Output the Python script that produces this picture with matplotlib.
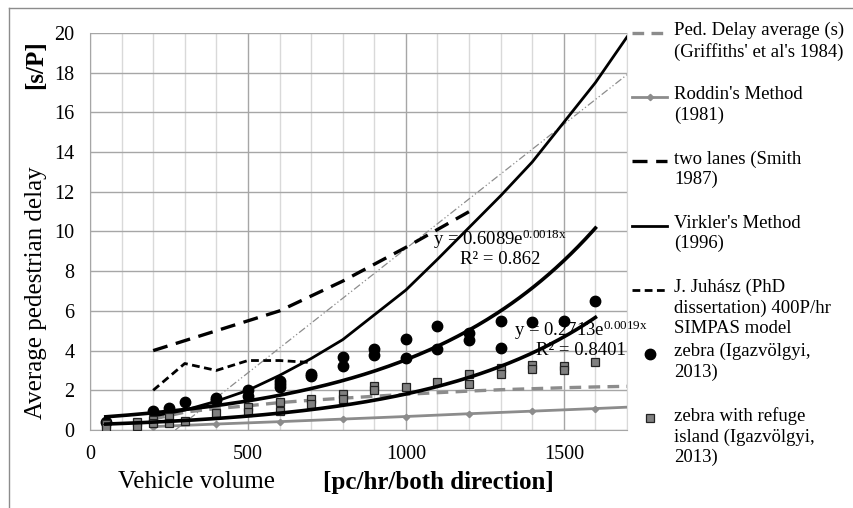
import numpy as np
import matplotlib
matplotlib.use("Agg")
import matplotlib.pyplot as plt
from matplotlib.lines import Line2D
from matplotlib.ticker import MultipleLocator

plt.rcParams['font.family'] = ['Liberation Serif', 'DejaVu Serif']
plt.rcParams['mathtext.fontset'] = 'custom'
plt.rcParams['mathtext.rm'] = 'Liberation Serif'

# ---------------- data ----------------
ped_x = [200, 300, 400, 500, 600, 700, 800, 900, 1000, 1100, 1200, 1300, 1400, 1500, 1600, 1700]
ped_y = [0.55, 0.9, 1.08, 1.22, 1.38, 1.5, 1.6, 1.7, 1.8, 1.88, 1.96, 2.03, 2.08, 2.13, 2.17, 2.2]

roddin_x = [200, 400, 600, 800, 1000, 1200, 1400, 1600, 1700]
roddin_y = [0.17, 0.3, 0.42, 0.55, 0.68, 0.82, 0.95, 1.08, 1.15]

smith_x = [200, 400, 600, 800, 1000, 1200]
smith_y = [4.0, 5.0, 6.0, 7.5, 9.2, 11.0]

virkler_x = [200, 300, 400, 500, 600, 700, 800, 900, 1000, 1100, 1200, 1300, 1400, 1500, 1600, 1700]
virkler_y = [0.7, 1.0, 1.45, 2.0, 2.75, 3.6, 4.55, 5.8, 7.05, 8.6, 10.2, 11.8, 13.5, 15.5, 17.5, 19.8]

juhasz_x = [200, 300, 400, 500, 600, 700]
juhasz_y = [2.0, 3.35, 3.0, 3.5, 3.5, 3.4]

zebra_x = [50, 200, 250, 300, 400, 400, 500, 500, 600, 600, 600, 700, 700, 800, 800,
           900, 900, 1000, 1000, 1100, 1100, 1200, 1200, 1300, 1300, 1400, 1500, 1600]
zebra_y = [0.4, 0.95, 1.1, 1.42, 1.6, 1.5, 2.0, 1.7, 2.47, 2.3, 2.15, 2.82, 2.7, 3.66, 3.22,
           4.06, 3.78, 4.57, 3.61, 5.25, 4.06, 4.9, 4.53, 5.5, 4.15, 5.42, 5.47, 6.51]

refuge_x = [50, 50, 150, 150, 200, 200, 250, 250, 300, 400, 500, 500, 600, 600, 700, 700,
            800, 800, 900, 900, 1000, 1100, 1200, 1200, 1300, 1300, 1400, 1400, 1500, 1500, 1600]
refuge_y = [0.3, 0.1, 0.42, 0.2, 0.52, 0.33, 0.64, 0.34, 0.47, 0.87, 1.14, 0.92, 1.43, 0.96, 1.55, 1.31,
            1.8, 1.56, 2.22, 2.0, 2.15, 2.4, 2.8, 2.3, 3.1, 2.8, 3.27, 3.05, 3.22, 3.0, 3.44]

# exponential trendlines y = a * exp(b x) (coefficients as shown, b unrounded)
zebra_trend_a, zebra_trend_b = 0.6089, 0.00176
refuge_trend_a, refuge_trend_b = 0.2713, 0.0019

dashdot_x = [270, 1700]
dashdot_y = [0.0, 17.9]

labels = [
    "Ped. Delay average (s)\n(Griffiths' et al's 1984)",
    "Roddin's Method\n(1981)",
    "two lanes (Smith\n1987)",
    "Virkler's Method\n(1996)",
    "J. Juhász (PhD\ndissertation) 400P/hr\nSIMPAS model",
    "zebra (Igazvölgyi,\n2013)",
    "zebra with refuge\nisland (Igazvölgyi,\n2013)",
]
eq1 = 'y = 0.6089' + r'$\mathregular{e^{0.0018x}}$' + '\nR² = 0.862'
eq2 = 'y = 0.2713' + r'$\mathregular{e^{0.0019x}}$' + '\nR² = 0.8401'

# ---------------- styles ----------------
GRAY = '#8c8c8c'
styles = [
    dict(color=GRAY, lw=2.4, ls=(0, (3.5, 2.2))),
    dict(color=GRAY, lw=2.0, marker='D', ms=3.2, mfc=GRAY, mec=GRAY),
    dict(color='black', lw=2.4, ls=(0, (4.5, 2.6))),
    dict(color='black', lw=2.0),
    dict(color='black', lw=2.0, ls=(0, (2.8, 1.6))),
    dict(color='black', lw=0, marker='o', ms=7.5, mfc='black', mec='black'),
    dict(color='black', lw=0, marker='s', ms=6.3, mfc='#808080', mec='#222222', mew=0.9),
]

W, H = 854, 508
fig = plt.figure(figsize=(W / 100, H / 100), dpi=100)
ax = fig.add_axes([90 / W, 78 / H, 537 / W, 397 / H])

ax.set_xlim(0, 1700)
ax.set_ylim(0, 20)
ax.xaxis.set_major_locator(MultipleLocator(500))
ax.xaxis.set_minor_locator(MultipleLocator(100))
ax.yaxis.set_major_locator(MultipleLocator(2))
ax.grid(which='minor', axis='x', color='#d9d9d9', lw=1.0, zorder=0)
ax.grid(which='major', axis='x', color='#a6a6a6', lw=1.0, zorder=0)
ax.grid(which='major', axis='y', color='#a6a6a6', lw=1.0, zorder=0)
ax.set_axisbelow(True)
ax.tick_params(which='both', length=0, labelsize=14.5)
ax.tick_params(axis='y', pad=11)
ax.tick_params(axis='x', pad=11)
ax.spines['top'].set_visible(False)
ax.spines['right'].set_color('#d9d9d9')
ax.spines['left'].set_color('#a6a6a6')
ax.spines['bottom'].set_color('#a6a6a6')

# series
ax.plot(dashdot_x, dashdot_y, color=GRAY, lw=0.9, ls=(0, (6, 2, 1, 2, 1, 2)), zorder=2)
ax.plot(ped_x, ped_y, zorder=3, **styles[0])
ax.plot(roddin_x, roddin_y, zorder=3, markevery=slice(0, -1), **styles[1])
ax.plot(smith_x, smith_y, zorder=3, **styles[2])
ax.plot(virkler_x, virkler_y, zorder=3, **styles[3])
ax.plot(juhasz_x, juhasz_y, zorder=3, **styles[4])
ax.plot(zebra_x, zebra_y, zorder=4, **styles[5])
ax.plot(refuge_x, refuge_y, zorder=4, **styles[6])

for xs_, a, b in [(zebra_x, zebra_trend_a, zebra_trend_b), (refuge_x, refuge_trend_a, refuge_trend_b)]:
    xx = np.linspace(min(xs_), max(xs_), 200)
    ax.plot(xx, a * np.exp(b * xx), color='black', lw=2.6, zorder=5)

ax.text(1297, 9.19, eq1, ha='center', va='center', fontsize=13.5, linespacing=1.0, zorder=6)
ax.text(1555, 4.58, eq2, ha='center', va='center', fontsize=13.5, linespacing=1.0, zorder=6, clip_on=False)

# axis titles
fig.text(36 / W, 1 - 293 / H, 'Average pedestrian delay', rotation=90, ha='center', va='center', fontsize=18)
fig.text(36 / W, 1 - 65 / H, '[s/P]', rotation=90, ha='center', va='center', fontsize=18, fontweight='bold')
fig.text(197 / W, 1 - 482 / H, 'Vehicle volume', ha='center', va='center', fontsize=18)
fig.text(438 / W, 1 - 482 / H, '[pc/hr/both direction]', ha='center', va='center', fontsize=18, fontweight='bold')

# legend (handles aligned with the first text line, as in the original)
for i, (lab, st) in enumerate(zip(labels, styles)):
    ypx = 33 + 64.2 * i
    yf = 1 - ypx / H
    if st.get('lw', 1) > 0:
        kw = {k: v for k, v in st.items() if k not in ('marker', 'ms', 'mfc', 'mec', 'mew')}
        fig.add_artist(Line2D([632 / W, 667 / W], [yf, yf], transform=fig.transFigure, **kw))
    if 'marker' in st:
        fig.add_artist(Line2D([650 / W], [yf], transform=fig.transFigure, ls='none',
                              marker=st['marker'], ms=st['ms'], mfc=st['mfc'], mec=st['mec'],
                              mew=st.get('mew', 1.0)))
    fig.text(674 / W, 1 - (ypx - 11) / H, lab, ha='left', va='top', fontsize=13.5, linespacing=1.25)

# outer frame
fig.add_artist(Line2D([9 / W, 1], [1 - 8 / H, 1 - 8 / H], transform=fig.transFigure, color=GRAY, lw=1))
fig.add_artist(Line2D([9 / W, 9 / W], [0, 1 - 8 / H], transform=fig.transFigure, color=GRAY, lw=1))

fig.savefig('out.png', dpi=100)
